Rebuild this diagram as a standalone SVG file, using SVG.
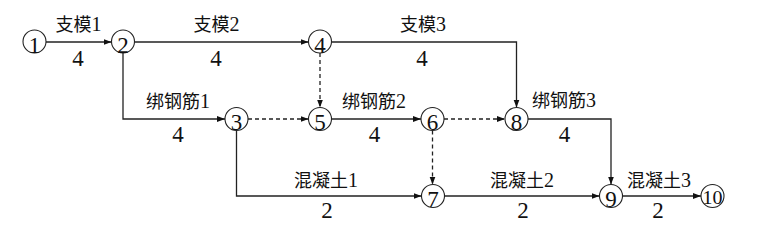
<svg xmlns="http://www.w3.org/2000/svg" width="764" height="231" viewBox="0 0 764 231">
<defs>
<marker id="arr" markerUnits="userSpaceOnUse" markerWidth="9" markerHeight="7" refX="8" refY="3" orient="auto">
<path d="M0,0 L8,3 L0,6 z" fill="#111"/>
</marker>
<style>
.node circle{fill:#fff;stroke:#222;stroke-width:1.1}
.node text{font-family:'Liberation Serif','Noto Sans CJK SC',serif;font-size:23px;text-anchor:middle;fill:#111}
.e{fill:none;stroke:#222;stroke-width:1.3;marker-end:url(#arr)}
.d{stroke-dasharray:4 3}
.lbl{font-family:'Liberation Serif','Noto Sans CJK SC',serif;font-size:18px;text-anchor:middle;fill:#111}
.lbl tspan{font-size:20px}
.num{font-family:'Liberation Serif',serif;font-size:23px;text-anchor:middle;fill:#111}
</style>
</defs>
<rect width="764" height="231" fill="#fff"/>
<g id="connectors">
<path class="e" d="M46 42 H111.5"/>
<path class="e" d="M134.5 42 H308.5"/>
<path class="e" d="M331.5 42 H516.5 V107.5"/>
<path class="e" d="M123 53 V119 H225"/>
<path class="e d" d="M248 119 H308.5"/>
<path class="e d" d="M320 53 V107.5"/>
<path class="e" d="M331.5 119 H421"/>
<path class="e d" d="M444 119 H505"/>
<path class="e d" d="M432.5 130.5 V184.5"/>
<path class="e" d="M528 119 H611 V184.5"/>
<path class="e" d="M236.5 130.5 V196 H421.5"/>
<path class="e" d="M444.5 196 H599.5"/>
<path class="e" d="M622.5 196 H701"/>
</g>
<g id="labels">
<text class="lbl" x="78.5" y="31">支模<tspan>1</tspan></text>
<text class="num" x="78" y="66">4</text>
<text class="lbl" x="216.5" y="31">支模<tspan>2</tspan></text>
<text class="num" x="216" y="66">4</text>
<text class="lbl" x="423" y="31">支模<tspan>3</tspan></text>
<text class="num" x="422" y="66">4</text>
<text class="lbl" x="178" y="108">绑钢筋<tspan>1</tspan></text>
<text class="num" x="178" y="142">4</text>
<text class="lbl" x="374" y="108">绑钢筋<tspan>2</tspan></text>
<text class="num" x="374.5" y="142">4</text>
<text class="lbl" x="564" y="107">绑钢筋<tspan>3</tspan></text>
<text class="num" x="564.5" y="142">4</text>
<text class="lbl" x="326" y="187">混凝土<tspan>1</tspan></text>
<text class="num" x="327" y="218">2</text>
<text class="lbl" x="522" y="187">混凝土<tspan>2</tspan></text>
<text class="num" x="523" y="218">2</text>
<text class="lbl" x="659" y="187">混凝土<tspan>3</tspan></text>
<text class="num" x="658" y="218">2</text>
</g>
<g id="n1" class="node"><circle cx="34.5" cy="41.5" r="11.5"/><text x="34.5" y="52.5">1</text></g>
<g id="n2" class="node"><circle cx="123" cy="41.5" r="11.5"/><text x="123" y="52.5">2</text></g>
<g id="n4" class="node"><circle cx="320" cy="41.5" r="11.5"/><text x="320" y="52.5">4</text></g>
<g id="n3" class="node"><circle cx="236.5" cy="119" r="11.5"/><text x="236.5" y="130">3</text></g>
<g id="n5" class="node"><circle cx="320" cy="119" r="11.5"/><text x="320" y="130">5</text></g>
<g id="n6" class="node"><circle cx="432.5" cy="119" r="11.5"/><text x="432.5" y="130">6</text></g>
<g id="n8" class="node"><circle cx="516.5" cy="119" r="11.5"/><text x="516.5" y="130">8</text></g>
<g id="n7" class="node"><circle cx="433" cy="196" r="11.5"/><text x="433" y="207">7</text></g>
<g id="n9" class="node"><circle cx="611" cy="196" r="11.5"/><text x="611" y="207">9</text></g>
<g id="n10" class="node"><circle cx="712.5" cy="196" r="11.5"/><text x="712.5" y="203.5" style="font-size:18px" textLength="20" lengthAdjust="spacingAndGlyphs">10</text></g>
</svg>
